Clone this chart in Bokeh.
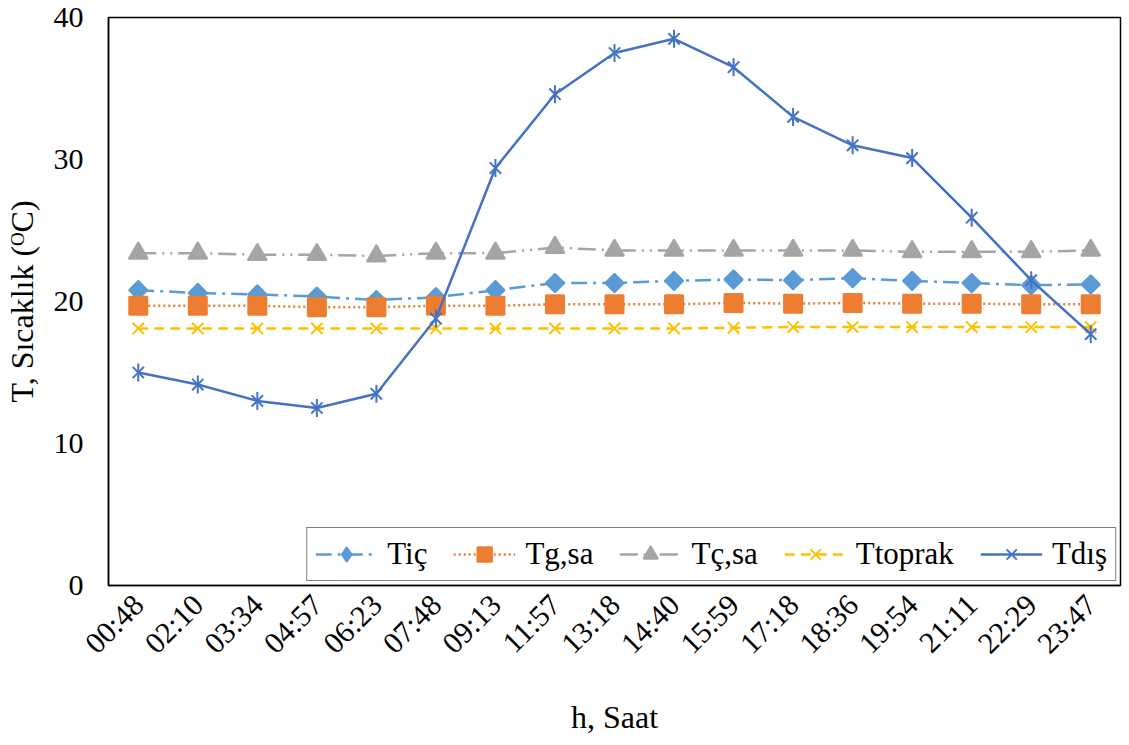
from bokeh.plotting import figure
from bokeh.models import Range1d, Legend, LegendItem
from bokeh.embed import file_html
from bokeh.resources import INLINE
from math import pi

times = ["00:48", "02:10", "03:34", "04:57", "06:23", "07:48", "09:13", "11:57", "13:18",
         "14:40", "15:59", "17:18", "18:36", "19:54", "21:11", "22:29", "23:47"]
t_ic = [20.8, 20.6, 20.5, 20.35, 20.1, 20.3, 20.8, 21.3, 21.3, 21.45, 21.55, 21.5, 21.65, 21.45, 21.3, 21.15, 21.2]
t_gsa = [19.7, 19.7, 19.7, 19.6, 19.6, 19.7, 19.7, 19.8, 19.8, 19.8, 19.9, 19.85, 19.9, 19.85, 19.85, 19.8, 19.8]
t_csa = [23.4, 23.4, 23.3, 23.3, 23.2, 23.4, 23.4, 23.8, 23.6, 23.6, 23.6, 23.6, 23.6, 23.5, 23.5, 23.5, 23.6]
t_toprak = [18.1, 18.1, 18.1, 18.1, 18.1, 18.1, 18.1, 18.1, 18.1, 18.1, 18.15, 18.2, 18.2, 18.2, 18.2, 18.2, 18.2]
t_dis = [15.0, 14.15, 13.0, 12.5, 13.5, 18.8, 29.4, 34.6, 37.5, 38.5, 36.5, 33.0, 31.0, 30.1, 25.9, 21.5, 17.7]

FONT = "Liberation Serif"

p = figure(x_range=times, y_range=Range1d(0, 40),
           frame_width=1012, frame_height=568,
           min_border_left=108, min_border_right=9, min_border_top=17, min_border_bottom=160,
           output_backend="svg", toolbar_location=None)
p.outline_line_color = "black"
p.outline_line_width = 1.5
p.xgrid.visible = False
p.ygrid.visible = False

p.yaxis.ticker = [0, 10, 20, 30, 40]
p.yaxis.major_tick_in = 9
p.yaxis.major_tick_out = 0
p.yaxis.minor_tick_line_color = None
p.yaxis.major_label_standoff = 25
p.yaxis.axis_label = "T, Sıcaklık (ᴼC)"
p.yaxis.axis_label_standoff = 11

p.xaxis.minor_tick_line_color = None
p.xaxis.major_label_orientation = pi / 4
p.xaxis.major_label_standoff = 8
p.xaxis.axis_label = "h, Saat"
p.xaxis.axis_label_standoff = 25

for ax in (p.xaxis, p.yaxis):
    ax.axis_line_color = "black"
    ax.axis_line_width = 1.5
    ax.major_tick_line_color = "black" if ax is p.yaxis else None
    ax.major_tick_line_width = 1.5
    ax.major_label_text_font = FONT
    ax.major_label_text_font_size = "30px"
    ax.major_label_text_color = "black"
    ax.axis_label_text_font = FONT
    ax.axis_label_text_font_size = "32px"
    ax.axis_label_text_font_style = "normal"
    ax.axis_label_text_color = "black"

series = [
    ("Tiç", t_ic, "#5B9BD5", "16 6 3 6"),
    ("Tg,sa", t_gsa, "#ED7D31", "2 3"),
    ("Tç,sa", t_csa, "#A5A5A5", "18 6 2 6 2 6"),
    ("Ttoprak", t_toprak, "#FFC000", "10 6"),
    ("Tdış", t_dis, "#4472C4", "solid"),
]
# (marker, size, angle, shown in legend)
markers = [
    [("diamond", 18, 0, True), ("square", 13, pi / 4, False)],
    [("square", 18, 0, True)],
    [("triangle", 19, 0, True)],
    [("x", 16, 0, True)],
    [("x", 16, 0, True), ("dash", 18, pi / 2, False)],
]

items = []
for (name, vals, color, dash), mks in zip(series, markers):
    rs = [p.line(times, vals, line_color=color, line_width=2.5, line_dash=dash)]
    for marker, size, ang, in_legend in mks:
        r = p.scatter(times, vals, marker=marker, size=size, angle=ang,
                      fill_color=color, line_color=color, line_width=2)
        if in_legend:
            rs.append(r)
    items.append(LegendItem(label=name, renderers=rs))

legend = Legend(items=items, orientation="horizontal", location="bottom_right")
legend.label_text_font = FONT
legend.label_text_font_size = "31px"
legend.label_text_color = "black"
legend.border_line_color = "black"
legend.border_line_width = 1.5
legend.glyph_width = 62
legend.glyph_height = 36
legend.label_standoff = 10
legend.spacing = 26
legend.padding = 8
legend.margin = 4
legend.background_fill_alpha = 1
p.add_layout(legend)

open("out.html", "w").write(file_html(p, INLINE))
